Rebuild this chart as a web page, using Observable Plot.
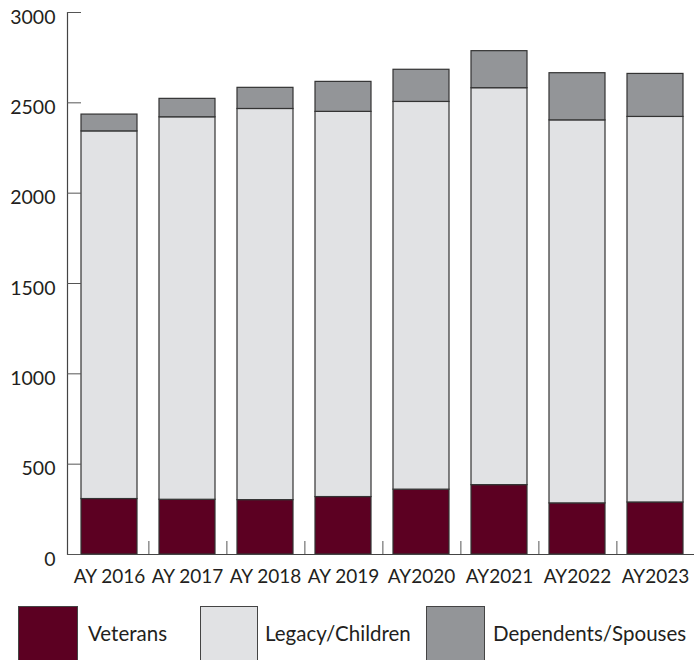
<!DOCTYPE html>
<html><head><meta charset="utf-8">
<script src="https://cdn.jsdelivr.net/npm/d3@7"></script>
<script src="https://cdn.jsdelivr.net/npm/@observablehq/plot@0.6"></script>
<style>
body{margin:0;background:#fff;font-family:Lato,sans-serif;}
#wrap{position:relative;width:694px;height:660px;overflow:hidden}
#wrap svg{display:block}
.legend{position:absolute;top:600px;left:0;width:694px;height:60px}
.sw{position:absolute;top:6px;height:62px;border:1.5px solid #444;box-sizing:border-box}
.lb{position:absolute;top:23px;font-size:20.5px;line-height:20px;color:#231f20;white-space:nowrap}
</style></head><body><div id="wrap"></div>
<script>
const years = ["AY 2016","AY 2017","AY 2018","AY 2019","AY2020","AY2021","AY2022","AY2023"];
const categories = ["Veterans","Legacy/Children","Dependents/Spouses"];
const veterans = [307,303,301,318,359,384,283,288];
const legacy = [2035,2117,2165,2132,2146,2197,2120,2134];
const dependents = [93,102,117,166,178,205,261,238];
const yTicks = [0,500,1000,1500,2000,2500,3000];
const colors = ["#5c0022","#e1e2e4","#939598"];

const series = [veterans, legacy, dependents];
const rows = [];
years.forEach((yr,i)=>{ categories.forEach((c,k)=>rows.push({year:yr,category:c,value:series[k][i]})); });

const W=694,H=600,mL=67,mR=-3,mT=12,mB=46;
const step=(W-mL-mR)/years.length;
const chart = Plot.plot({
  width:W,height:H,marginLeft:mL,marginRight:mR,marginTop:mT,marginBottom:mB,
  style:{fontFamily:"Lato, sans-serif",fontSize:"19px",color:"#231f20",background:"transparent",overflow:"visible"},
  x:{domain:years,paddingInner:0.28,paddingOuter:0.14,label:null},
  y:{domain:[0,3000],label:null},
  color:{domain:categories,range:colors},
  marks:[
    Plot.barY(rows,{x:"year",y:"value",fill:"category",stroke:"#333",strokeWidth:1.2}),
    Plot.frame({anchor:"left",stroke:"#444",strokeWidth:1.2}),
    Plot.ruleY([0],{stroke:"#444",strokeWidth:1.2}),
    Plot.axisY({ticks:yTicks,text:null,tickSize:14,dx:14,stroke:"#555",label:null}),
    Plot.axisY({ticks:yTicks,tickSize:0,tickPadding:12,dy:5,fontSize:19.5,label:null,tickFormat:d=>String(d)}),
    Plot.axisX({ticks:years.slice(0,-1),text:null,tickSize:13,dy:-13,dx:step/2,stroke:"#555",label:null}),
    Plot.axisX({tickSize:0,tickPadding:15,fontSize:19,label:null})
  ]
});
const wrap=document.getElementById("wrap");
wrap.appendChild(chart);
const leg=document.createElement("div");leg.className="legend";
const sw=[[18,60],[200,58],[426,59]], lb=[88,265,493];
categories.forEach((c,k)=>{
  const s=document.createElement("div");s.className="sw";s.style.left=sw[k][0]+"px";s.style.width=sw[k][1]+"px";s.style.background=colors[k];leg.appendChild(s);
  const t=document.createElement("div");t.className="lb";t.style.left=lb[k]+"px";t.textContent=c;leg.appendChild(t);
});
wrap.appendChild(leg);
</script></body></html>
